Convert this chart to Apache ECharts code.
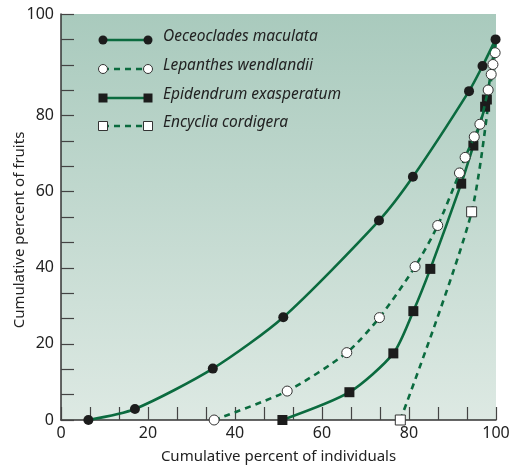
<!DOCTYPE html>
<html>
<head>
<meta charset="utf-8">
<script src="https://cdn.jsdelivr.net/npm/echarts@6/dist/echarts.min.js"></script>
<style>
html,body{margin:0;padding:0;background:#fff;}
#c{width:510px;height:469px;}
</style>
</head>
<body>
<div id="c"></div>
<script>
// ---- data (x = cumulative % of individuals, y = cumulative % of fruits)
const seriesNames = ['Oeceoclades maculata', 'Lepanthes wendlandii', 'Epidendrum exasperatum', 'Encyclia cordigera'];
const oeceocladesX = [6.3, 17.0, 34.9, 51.1, 73.1, 80.9, 93.8, 96.9, 99.9];
const oeceocladesY = [0, 2.9, 13.5, 27.0, 52.4, 63.9, 86.4, 93.0, 100];
const lepanthesX = [35.2, 52.0, 65.7, 73.2, 81.4, 86.6, 91.6, 92.9, 95.0, 96.3, 98.2, 98.9, 99.3, 99.8];
const lepanthesY = [0, 7.6, 17.7, 26.9, 40.3, 51.1, 64.9, 69.0, 74.4, 77.7, 86.7, 90.8, 93.4, 96.5];
const epidendrumX = [50.9, 66.3, 76.4, 81.0, 84.9, 92.0, 94.8, 97.5, 97.9];
const epidendrumY = [0, 7.3, 17.5, 28.6, 39.7, 62.1, 72.1, 82.3, 84.2];
const encycliaX = [78.0, 94.4];
const encycliaY = [0, 54.7];
const sharedEnd = [99.9, 100]; // all cumulative curves end at 100 % (hidden under top marker)
const xTickLabels = ['0', '20', '40', '60', '80', '100'];
const yTickLabels = ['0', '20', '40', '60', '80', '100'];

const GREEN = '#0b6b3f';
const DARK = '#1c1c1c';
const FONT = '"Noto Sans", "Open Sans", sans-serif';

function pts(xs, ys) { return xs.map((x, i) => [x, ys[i]]); }
function withEnd(arr) { return arr.concat([{ value: sharedEnd, symbol: 'none' }]); }

const styles = [
  { symbol: 'circle', fill: DARK, border: DARK, dash: 'solid', size: 10 },
  { symbol: 'circle', fill: '#ffffff', border: '#333', dash: [6, 5], size: 10 },
  { symbol: 'rect', fill: DARK, border: DARK, dash: 'solid', size: 10 },
  { symbol: 'rect', fill: '#ffffff', border: '#333', dash: [6, 5], size: 10 }
];
const dataSets = [
  pts(oeceocladesX, oeceocladesY),
  withEnd(pts(lepanthesX, lepanthesY)),
  withEnd(pts(epidendrumX, epidendrumY)),
  withEnd(pts(encycliaX, encycliaY))
];

const series = seriesNames.map((name, i) => ({
  name: name,
  type: 'line',
  data: dataSets[i],
  smooth: 0.25,
  z: i === 0 ? 6 : 3 + (3 - i) * 0.1,
  symbol: styles[i].symbol,
  symbolSize: styles[i].size,
  lineStyle: { color: GREEN, width: 2.6, type: styles[i].dash },
  itemStyle: { color: styles[i].fill, borderColor: styles[i].border, borderWidth: i % 2 ? 1 : 0 },
  emphasis: { disabled: true },
  animation: false
}));

// legend drawn with graphic elements (marker–line–marker)
const legendRows = [40, 69, 98, 126];
const graphics = [];
seriesNames.forEach((name, i) => {
  const y = legendRows[i];
  const st = styles[i];
  graphics.push({
    type: 'line', shape: { x1: 103, y1: y, x2: 148, y2: y },
    style: { stroke: GREEN, lineWidth: 2.6, lineDash: st.dash === 'solid' ? null : [6, 5] }, z: 10
  });
  [103, 148].forEach(cx => {
    if (st.symbol === 'circle') {
      graphics.push({ type: 'circle', shape: { cx: cx, cy: y, r: 4.5 },
        style: { fill: st.fill, stroke: st.border, lineWidth: i % 2 ? 1 : 0 }, z: 11 });
    } else {
      graphics.push({ type: 'rect', shape: { x: cx - 4.5, y: y - 4.5, width: 9, height: 9 },
        style: { fill: st.fill, stroke: st.border, lineWidth: i % 2 ? 1 : 0 }, z: 11 });
    }
  });
  graphics.push({
    type: 'text', left: 163, top: y - 11,
    style: { text: name, fill: '#222', font: 'italic 15.5px ' + FONT }, z: 11
  });
});

const chart = echarts.init(document.getElementById('c'), null, { renderer: 'canvas' });
chart.setOption({
  animation: false,
  grid: {
    left: 61, right: 14, top: 14, bottom: 49,
    outerBoundsMode: 'none', containLabel: false,
    show: true, borderWidth: 0,
    backgroundColor: {
      type: 'linear', x: 0, y: 0, x2: 0, y2: 1,
      colorStops: [{ offset: 0, color: '#a9cabd' }, { offset: 1, color: '#dde9e3' }]
    }
  },
  xAxis: {
    type: 'value', min: 0, max: 100, interval: 20 / 3,
    name: 'Cumulative percent of individuals', nameLocation: 'middle', nameGap: 29,
    nameMoveOverlap: false,
    nameTextStyle: { color: '#222', fontSize: 15, fontFamily: FONT },
    axisLine: { show: true, lineStyle: { color: '#333', width: 1.5 } },
    axisTick: { show: true, inside: true, length: 13, lineStyle: { color: '#444', width: 1.2 } },
    splitLine: { show: false },
    axisLabel: {
      color: '#222', fontSize: 16, fontFamily: FONT, margin: 5, showMaxLabel: true,
      formatter: v => { const r = Math.round(v * 3); return r % 60 === 0 ? xTickLabels[r / 60] : ''; }
    }
  },
  yAxis: {
    type: 'value', min: 0, max: 320 / 3, interval: 20 / 3,
    name: 'Cumulative percent of fruits', nameLocation: 'middle', nameGap: 34,
    nameMoveOverlap: false,
    nameTextStyle: { color: '#222', fontSize: 15, fontFamily: FONT, padding: [0, 26, 0, 0] },
    axisLine: { show: true, lineStyle: { color: '#333', width: 1.5 } },
    axisTick: { show: true, inside: true, length: 13, lineStyle: { color: '#444', width: 1.2 } },
    splitLine: { show: false },
    axisLabel: {
      color: '#222', fontSize: 16, fontFamily: FONT, margin: 7, showMaxLabel: true,
      formatter: v => {
        const r = Math.round(v * 3);
        if (r === 320) return yTickLabels[5];
        return (r % 60 === 0 && r < 300) ? yTickLabels[r / 60] : '';
      }
    }
  },
  graphic: graphics,
  series: series
});
</script>
</body>
</html>
